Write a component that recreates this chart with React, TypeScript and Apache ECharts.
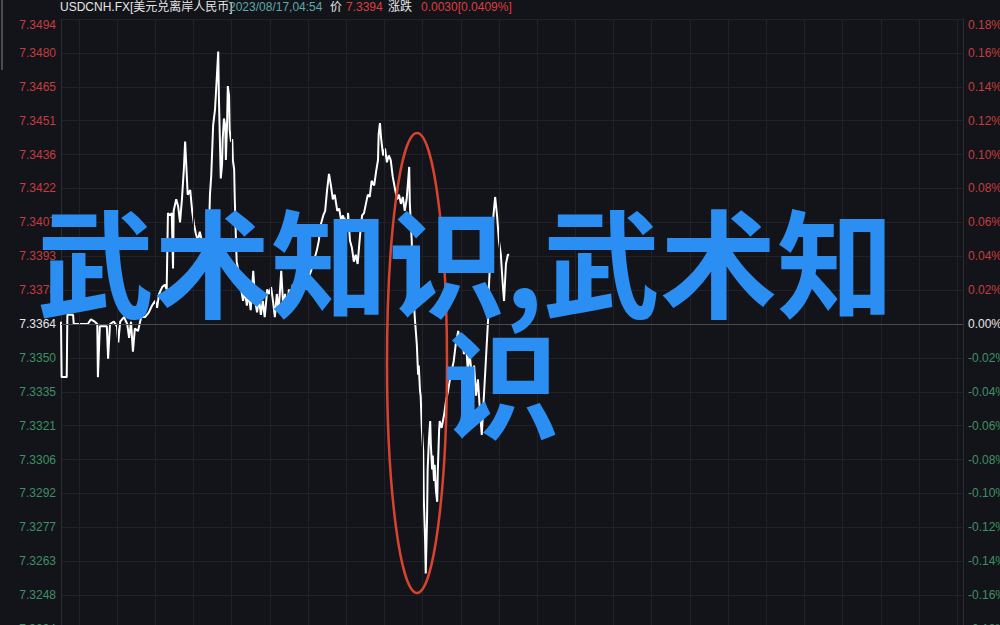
import { useEffect, useRef } from 'react';
import * as echarts from 'echarts';

// previous close (0.00% line)
const prevClose = 7.3364;

// left axis tick labels, top to bottom (0.18% ... -0.18%)
const leftTickLabels = [
  '7.3494', '7.3480', '7.3465', '7.3451', '7.3436', '7.3422', '7.3407', '7.3393', '7.3378',
  '7.3364', '7.3350', '7.3335', '7.3321', '7.3306', '7.3292', '7.3277', '7.3263', '7.3248', '7.3234',
];

// minutes since session start
const minutes = [
  0, 1, 9, 10, 19, 20, 30, 33, 42, 47, 53, 57, 58, 61, 68, 72, 74, 77, 83, 88,
  90, 93, 99, 104, 107, 110, 113, 116, 121, 126, 132, 138, 143, 148, 151, 154, 159, 163, 166, 168,
  171, 174, 176, 177, 181, 184, 187, 190, 193, 195, 198, 199, 203, 206, 209, 212, 215, 218, 223, 228,
  232, 234, 236, 239, 242, 245, 247, 248, 250, 251, 253, 254, 256, 258, 259, 261, 262, 264, 265, 267,
  269, 270, 272, 273, 275, 276, 280, 283, 286, 289, 292, 295, 298, 302, 305, 308, 311, 314, 317, 320,
  324, 327, 330, 333, 336, 339, 342, 346, 349, 352, 355, 358, 361, 364, 368, 371, 374, 377, 380, 383,
  386, 390, 393, 396, 399, 402, 405, 408, 412, 415, 418, 421, 424, 427, 430, 434, 437, 440, 443, 446,
  449, 451, 454, 457, 460, 463, 466, 470, 473, 476, 479, 482, 485, 488, 492, 495, 498, 499, 501, 503,
  506, 509, 512, 515, 518, 521, 525, 528, 531, 534, 537, 540, 543, 547, 548, 551, 553, 556, 559, 561,
  562, 564, 565, 567, 569, 570, 572, 573, 575, 576, 578, 580, 581, 583, 584, 586, 587, 589, 591, 592,
  594, 595, 598, 602, 605, 608, 611, 614, 617, 620, 624, 627, 630, 633, 636, 639, 642, 646, 649, 652,
  655, 658, 661, 664, 668, 671, 672, 674, 677, 680, 682, 685, 688, 691, 694, 696, 699, 702, 704,
];

// USDCNH price
const prices = [
  7.3365, 7.3341, 7.3341, 7.3368, 7.3368, 7.3364, 7.3364, 7.3364, 7.3364, 7.3366, 7.3365, 7.3364, 7.3341, 7.3363, 7.3363, 7.3363, 7.3349, 7.3364, 7.3365, 7.3363,
  7.3356, 7.3365, 7.3367, 7.3364, 7.3358, 7.3365, 7.3352, 7.3362, 7.3361, 7.3367, 7.3367, 7.3369, 7.3372, 7.3374, 7.3371, 7.3377, 7.3380, 7.3381, 7.3379, 7.3412,
  7.3411, 7.3412, 7.3388, 7.3413, 7.3418, 7.3415, 7.3408, 7.3418, 7.3431, 7.3443, 7.3426, 7.3420, 7.3422, 7.3413, 7.3407, 7.3403, 7.3400, 7.3404, 7.3398, 7.3401,
  7.3399, 7.3420, 7.3428, 7.3450, 7.3457, 7.3472, 7.3482, 7.3463, 7.3439, 7.3427, 7.3433, 7.3444, 7.3453, 7.3450, 7.3435, 7.3452, 7.3467, 7.3463, 7.3448, 7.3443,
  7.3444, 7.3435, 7.3431, 7.3418, 7.3399, 7.3391, 7.3385, 7.3379, 7.3374, 7.3378, 7.3372, 7.3377, 7.3370, 7.3387, 7.3374, 7.3369, 7.3375, 7.3368, 7.3374, 7.3367,
  7.3379, 7.3377, 7.3380, 7.3374, 7.3367, 7.3377, 7.3370, 7.3387, 7.3372, 7.3377, 7.3369, 7.3379, 7.3374, 7.3381, 7.3377, 7.3387, 7.3385, 7.3392, 7.3380, 7.3381,
  7.3379, 7.3385, 7.3387, 7.3391, 7.3393, 7.3396, 7.3400, 7.3407, 7.3411, 7.3413, 7.3422, 7.3429, 7.3424, 7.3418, 7.3420, 7.3413, 7.3414, 7.3409, 7.3411, 7.3408,
  7.3410, 7.3412, 7.3400, 7.3397, 7.3391, 7.3394, 7.3390, 7.3403, 7.3411, 7.3412, 7.3416, 7.3420, 7.3419, 7.3426, 7.3424, 7.3430, 7.3435, 7.3446, 7.3451, 7.3444,
  7.3437, 7.3440, 7.3434, 7.3437, 7.3435, 7.3428, 7.3422, 7.3418, 7.3420, 7.3416, 7.3419, 7.3413, 7.3418, 7.3432, 7.3416, 7.3400, 7.3379, 7.3366, 7.3355, 7.3342,
  7.3346, 7.3335, 7.3333, 7.3318, 7.3309, 7.3288, 7.3270, 7.3256, 7.3279, 7.3301, 7.3314, 7.3322, 7.3312, 7.3301, 7.3307, 7.3296, 7.3303, 7.3292, 7.3287, 7.3301,
  7.3318, 7.3322, 7.3319, 7.3325, 7.3331, 7.3335, 7.3340, 7.3344, 7.3348, 7.3355, 7.3361, 7.3355, 7.3359, 7.3351, 7.3357, 7.3344, 7.3351, 7.3340, 7.3346, 7.3333,
  7.3340, 7.3327, 7.3316, 7.3331, 7.3351, 7.3366, 7.3379, 7.3390, 7.3403, 7.3413, 7.3419, 7.3411, 7.3400, 7.3394, 7.3381, 7.3374, 7.3390, 7.3394, 7.3394,
];

// vertical hour grid lines (minutes since session start)
const hourMarks = [
  28, 88, 148, 208, 268, 328, 388, 448, 508, 568, 628, 688,
  748, 808, 868, 928, 988, 1048, 1108, 1168, 1228, 1288, 1348, 1408,
];

const sessionMinutes = 1417;

const headerParts = [
  { text: 'USDCNH.FX[美元兑离岸人民币]', color: '#e6e6e6' },
  { text: '2023/08/17,04:54', color: '#5aa9aa' },
  { text: '价', color: '#e6e6e6' },
  { text: '7.3394', color: '#de3d3d' },
  { text: '涨跌', color: '#e6e6e6' },
  { text: '0.0030[0.0409%]', color: '#de3d3d' },
];

const titleLine1 = '武术知识,武术知';
const titleLine2 = '识';

const RED = '#c43c40';
const GREEN = '#3f8f66';
const NEUTRAL = '#e6e6e6';
const GRID = '#202228';
const FONT = '"Liberation Sans", Arial, "Noto Sans CJK SC", sans-serif';
const TITLE_FONT = '"Noto Sans CJK SC", sans-serif';

export default function App() {
  const ref = useRef<HTMLDivElement>(null);

  useEffect(() => {
    if (!ref.current) return;
    const chart = echarts.init(ref.current, undefined, { renderer: 'svg' });

    const pct = prices.map((p) => (p / prevClose - 1) * 100);
    const lineData = minutes.map((m, i) => [m, pct[i]]);

    const colorFor = (v: any) => {
      const n = parseFloat(v);
      if (Math.abs(n) < 1e-9) return NEUTRAL;
      return n > 0 ? RED : GREEN;
    };

    const headerX = [60, 229, 330, 346, 388, 421];

    const option: any = {
      animation: false,
      backgroundColor: '#131419',
      grid: {
        left: 61,
        right: 37,
        top: 19,
        bottom: -4,
        containLabel: false,
        outerBoundsMode: 'none',
      },
      xAxis: {
        type: 'value',
        min: 0,
        max: sessionMinutes,
        axisLine: { show: false },
        axisTick: { show: false },
        axisLabel: { show: false },
        splitLine: { show: false },
      },
      yAxis: [
        {
          type: 'value',
          position: 'left',
          min: -0.18,
          max: 0.18,
          interval: 0.02,
          axisLine: { show: true, lineStyle: { color: '#2a2c32' } },
          axisTick: { show: false },
          splitLine: { show: true, lineStyle: { color: GRID, width: 1 } },
          axisLabel: {
            margin: 5,
            fontSize: 12,
            fontFamily: FONT,
            verticalAlignMaxLabel: 'top',
            color: colorFor,
            formatter: (v: number) => {
              const i = Math.round((0.18 - v) / 0.02);
              return leftTickLabels[i] ?? '';
            },
          },
        },
        {
          type: 'value',
          position: 'right',
          min: -0.18,
          max: 0.18,
          interval: 0.02,
          axisLine: { show: true, lineStyle: { color: '#2a2c32' } },
          axisTick: { show: false },
          splitLine: { show: false },
          axisLabel: {
            margin: 5,
            fontSize: 12,
            fontFamily: FONT,
            verticalAlignMaxLabel: 'top',
            color: colorFor,
            formatter: (v: number) => {
              const r = Math.round(v * 100) / 100;
              return (Math.abs(r) < 1e-9 ? 0 : r).toFixed(2) + '%';
            },
          },
        },
      ],
      series: [
        {
          type: 'line',
          data: [],
          z: 1,
          silent: true,
          markLine: {
            silent: true,
            symbol: 'none',
            animation: false,
            label: { show: false },
            lineStyle: { color: GRID, width: 1, type: 'solid' },
            data: [
              ...hourMarks.map((m) => ({ xAxis: m })),
              { yAxis: 0, lineStyle: { color: '#4a4c52', width: 1, type: 'solid' } },
            ],
          },
        },
        {
          type: 'line',
          data: lineData,
          z: 3,
          showSymbol: false,
          symbol: 'none',
          lineStyle: { color: '#ffffff', width: 2 },
        },
      ],
      graphic: [
        { type: 'rect', z: 50, shape: { x: 1, y: 0, width: 2, height: 70 }, style: { fill: '#4a4b50' } },
        ...headerParts.map((p, i) => ({
          type: 'text',
          z: 50,
          x: headerX[i],
          y: 7,
          style: {
            text: p.text,
            fill: p.color,
            fontSize: 12,
            fontFamily: FONT,
            textAlign: 'left',
            textVerticalAlign: 'middle',
          },
        })),
        {
          type: 'ellipse',
          z: 60,
          shape: { cx: 417, cy: 363, rx: 30, ry: 230 },
          style: { fill: 'none', stroke: '#d8432f', lineWidth: 2.5 },
        },
        {
          type: 'text',
          z: 70,
          x: 37,
          y: 258,
          style: {
            text: titleLine1,
            fill: '#2a8ef2',
            fontSize: 117,
            fontWeight: 'bold',
            fontFamily: TITLE_FONT,
            textAlign: 'left',
            textVerticalAlign: 'middle',
          },
        },
        {
          type: 'text',
          z: 70,
          x: 501,
          y: 379,
          style: {
            text: titleLine2,
            fill: '#2a8ef2',
            fontSize: 117,
            fontWeight: 'bold',
            fontFamily: TITLE_FONT,
            textAlign: 'center',
            textVerticalAlign: 'middle',
          },
        },
      ],
    };

    chart.setOption(option);
    return () => chart.dispose();
  }, []);

  return (
    <div
      ref={ref}
      style={{ position: 'fixed', left: 0, top: 0, width: 1000, height: 625, background: '#131419' }}
    />
  );
}
